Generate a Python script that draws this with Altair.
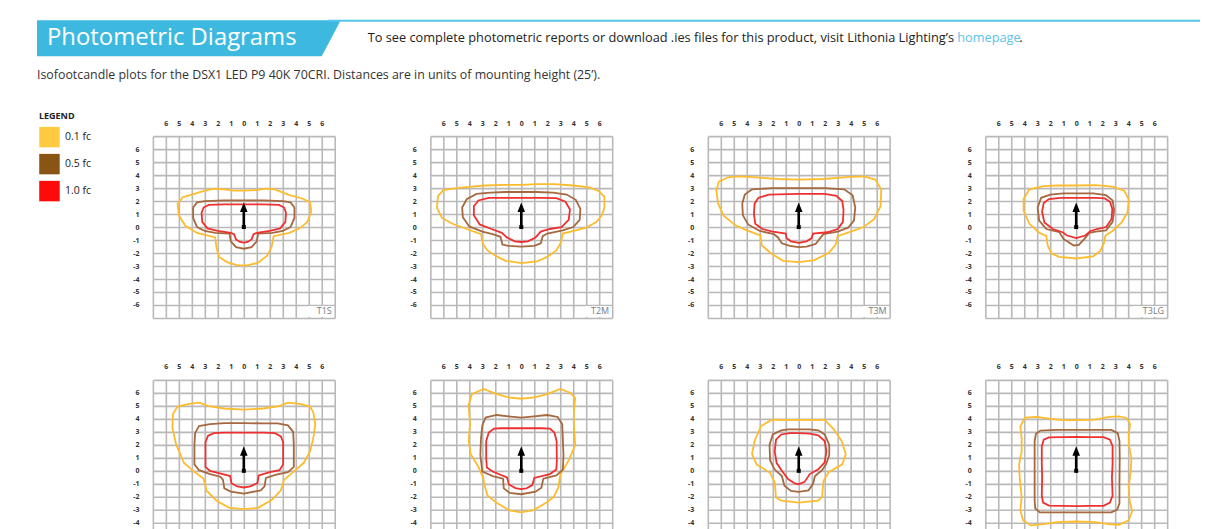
import altair as alt
import pandas as pd

# ---------------- text content ----------------
TITLE = "Photometric Diagrams"
INTRO = "To see complete photometric reports or download .ies files for this product, visit Lithonia Lighting\u2019s"
LINK = "homepage"
LINK_END = "."
DESC = "Isofootcandle plots for the DSX1 LED P9 40K 70CRI. Distances are in units of mounting height (25\u2019)."
LEGEND_TITLE = "LEGEND"

LEVELS = ["0.1 fc", "0.5 fc", "1.0 fc"]
SWATCH_COLORS = ["#FFCA40", "#8A5514", "#FF0A0A"]
LINE_COLORS = ["#FDBC2E", "#A5683F", "#EE3030"]

PANELS = ["T1S", "T2M", "T3M", "T3LG", "T4M", "T4LG", "TFTM", "T5VS"]
GRID_VALUES = list(range(-7, 8))

# fixture arrow (units of mounting height)
ARROW_BASE = 0.0
ARROW_SHAFT_END = 1.3
ARROW_HEAD_CENTER = 1.53

# ---------------- isofootcandle contours (x, y) ----------------
T1S_01 = [(0, 2.8), (1, 2.85), (1.7, 2.95), (2.4, 2.9), (3.4, 2.5), (4.5, 2.2), (5.1, 1.9), (5.2, 1.2), (4.9, 0.4),
          (4.3, -0.1), (3.5, -0.45), (2.3, -0.7), (2.15, -1.5), (1.8, -2.2), (1.1, -2.75), (0.3, -2.95), (-0.5, -2.95),
          (-1.3, -2.7), (-1.9, -2.3), (-2.1, -1.6), (-2.2, -0.8), (-3.6, -0.45), (-4.5, 0.1), (-5.0, 0.9), (-5.1, 1.8),
          (-4.7, 2.3), (-4.0, 2.5), (-3.0, 2.8), (-2.3, 2.95), (-1.5, 2.9), (-0.8, 2.8)]
T1S_05 = [(0, 2.05), (1.5, 2.05), (3.0, 2.0), (3.6, 1.9), (3.9, 1.5), (3.9, 0.7), (3.6, 0.0), (3.0, -0.3), (2.2, -0.45),
          (1.1, -0.5), (1.0, -1.1), (0.6, -1.55), (0, -1.67), (-0.6, -1.55), (-1.0, -1.1), (-1.1, -0.5), (-2.2, -0.45),
          (-3.0, -0.3), (-3.6, 0), (-3.9, 0.7), (-3.9, 1.5), (-3.6, 1.9), (-3.0, 2.0), (-1.5, 2.05)]
T1S_10 = [(0, 1.75), (1.5, 1.75), (2.7, 1.7), (3.1, 1.5), (3.25, 1.1), (3.2, 0.4), (2.8, -0.1), (2.0, -0.3), (1.0, -0.45),
          (0.75, -0.55), (0.6, -0.95), (0.3, -1.15), (0, -1.2), (-0.3, -1.15), (-0.6, -0.95), (-0.75, -0.55), (-1.0, -0.45),
          (-2.0, -0.3), (-2.8, -0.1), (-3.2, 0.4), (-3.25, 1.1), (-3.1, 1.5), (-2.7, 1.7), (-1.5, 1.75)]

T2M_01 = [(0, 3.25), (1.2, 3.3), (2.5, 3.3), (4.0, 3.2), (5.2, 3.05), (5.9, 2.8), (6.4, 2.35), (6.4, 1.5), (6.2, 0.9),
          (5.8, 0.4), (5.0, -0.05), (4.2, -0.25), (3.2, -0.5), (3.05, -1.2), (2.7, -1.8), (2.0, -2.3), (1.2, -2.65),
          (0, -2.78), (-1.2, -2.6), (-2.0, -2.2), (-2.6, -1.8), (-2.95, -1.3), (-3.1, -0.55), (-4.2, -0.15), (-5.3, 0.25),
          (-6.1, 0.7), (-6.5, 1.5), (-6.4, 2.4), (-6.0, 2.85), (-5.0, 3.0), (-4.0, 3.1), (-2.8, 3.2), (-1.3, 3.25)]
T2M_05 = [(0, 2.7), (1.2, 2.7), (2.45, 2.65), (3.5, 2.5), (4.2, 2.1), (4.55, 1.4), (4.5, 0.55), (4.0, 0.0), (3.2, -0.25),
          (2.0, -0.5), (1.65, -0.7), (1.5, -1.25), (1.0, -1.45), (0, -1.5), (-1.0, -1.45), (-1.45, -1.35), (-1.6, -0.75),
          (-2.2, -0.55), (-3.0, -0.35), (-4.0, 0.05), (-4.5, 0.75), (-4.55, 1.5), (-4.2, 2.15), (-3.45, 2.55),
          (-2.4, 2.65), (-1.2, 2.7)]
T2M_10 = [(0, 2.25), (1.5, 2.25), (2.7, 2.22), (3.4, 1.95), (3.75, 1.35), (3.65, 0.55), (3.1, 0.0), (2.2, -0.15),
          (1.5, -0.35), (1.1, -0.8), (0.5, -1.1), (0, -1.15), (-0.5, -1.1), (-1.1, -0.8), (-1.5, -0.45), (-2.3, -0.15),
          (-3.2, 0.2), (-3.65, 0.9), (-3.65, 1.6), (-3.3, 2.05), (-2.5, 2.25), (-1.5, 2.25)]

T3M_01 = [(0, 3.65), (1.9, 3.7), (3.7, 3.85), (5.0, 3.9), (5.9, 3.65), (6.35, 2.9), (6.3, 1.6), (5.8, 0.6), (5.0, 0.0),
          (4.0, -0.35), (3.0, -0.7), (2.85, -1.35), (2.3, -2.0), (1.2, -2.55), (0, -2.7), (-1.2, -2.6), (-2.1, -2.05),
          (-2.85, -1.4), (-2.95, -0.65), (-4.0, -0.25), (-4.9, 0.15), (-5.8, 0.9), (-6.2, 1.8), (-6.35, 2.8),
          (-6.15, 3.5), (-5.4, 3.85), (-4.5, 3.9), (-3.0, 3.8), (-1.6, 3.7)]
T3M_05 = [(0, 3.0), (2.0, 3.0), (3.5, 2.9), (4.15, 2.45), (4.35, 1.5), (4.25, 0.5), (3.8, -0.05), (3.0, -0.35),
          (1.9, -0.55), (1.65, -0.85), (1.3, -1.3), (0.6, -1.5), (0, -1.55), (-0.7, -1.45), (-1.3, -1.25), (-1.6, -0.8),
          (-1.9, -0.55), (-3.0, -0.3), (-3.9, 0.2), (-4.3, 0.9), (-4.35, 1.8), (-4.15, 2.5), (-3.6, 2.9), (-2.0, 3.0)]
T3M_10 = [(0, 2.55), (2.0, 2.55), (2.9, 2.4), (3.35, 2.0), (3.45, 1.3), (3.4, 0.4), (3.0, -0.15), (2.2, -0.4), (1.1, -0.5),
          (1.0, -0.85), (0.6, -1.1), (0, -1.22), (-0.6, -1.1), (-0.95, -0.85), (-1.0, -0.5), (-2.0, -0.35), (-2.8, -0.15),
          (-3.35, 0.25), (-3.45, 1.0), (-3.4, 1.8), (-3.1, 2.25), (-2.3, 2.5)]

T3LG_01 = [(0, 3.2), (1.5, 3.22), (2.8, 3.12), (3.7, 2.8), (4.05, 2.1), (3.95, 1.15), (3.5, 0.35), (2.8, -0.3),
           (2.25, -0.65), (2.15, -1.2), (1.85, -1.85), (1.3, -2.25), (0, -2.42), (-1.3, -2.3), (-1.9, -2.05), (-2.2, -1.4),
           (-2.3, -0.7), (-2.9, -0.4), (-3.6, 0.25), (-4.05, 1.25), (-4.05, 2.15), (-3.6, 2.9), (-2.5, 3.15), (-1.5, 3.2)]
T3LG_05 = [(0, 2.6), (1.3, 2.6), (2.3, 2.45), (2.8, 2.05), (2.92, 1.3), (2.8, 0.4), (2.3, -0.25), (1.5, -0.35),
           (1.0, -0.45), (0.6, -0.95), (0.2, -1.38), (-0.2, -1.42), (-0.6, -1.15), (-0.95, -0.95), (-1.3, -0.4),
           (-2.3, -0.15), (-2.85, 0.5), (-2.97, 1.5), (-2.7, 2.25), (-2.0, 2.5), (-1.0, 2.6)]
T3LG_10 = [(0, 2.25), (1.5, 2.25), (2.2, 2.2), (2.6, 1.95), (2.78, 1.4), (2.72, 0.6), (2.3, 0.0), (1.6, -0.15), (1.1, -0.3),
           (0.7, -0.65), (0, -0.85), (-0.7, -0.65), (-1.05, -0.4), (-1.8, -0.15), (-2.45, 0.35), (-2.63, 1.2),
           (-2.5, 1.85), (-2.1, 2.15), (-1.2, 2.25)]

T4M_01 = [(0, 4.72), (1.5, 4.8), (2.8, 5.0), (3.4, 5.25), (4.3, 5.15), (5.1, 4.95), (5.35, 4.5), (5.5, 3.6), (5.35, 2.5),
          (5.1, 1.5), (4.6, 0.6), (3.9, 0.0), (3.1, -0.7), (2.85, -1.5), (2.2, -2.2), (1.1, -2.85), (0, -2.95),
          (-1.1, -2.85), (-2.1, -2.3), (-2.85, -1.55), (-3.1, -0.6), (-3.9, 0.0), (-4.6, 0.6), (-5.2, 2.0), (-5.5, 3.3),
          (-5.45, 4.4), (-5.1, 4.95), (-4.2, 5.15), (-3.4, 5.25), (-2.8, 5.0), (-1.5, 4.8)]
T4M_05 = [(0, 3.68), (1.5, 3.65), (2.6, 3.65), (3.4, 3.5), (3.8, 3.0), (3.85, 2.0), (3.85, 0.3), (3.4, -0.1), (2.5, -0.3),
          (1.7, -0.55), (1.6, -1.2), (1.3, -1.5), (0, -1.75), (-1.0, -1.6), (-1.5, -1.35), (-1.6, -0.7), (-1.8, -0.45),
          (-2.6, -0.25), (-3.45, 0.05), (-3.8, 0.5), (-3.8, 2.0), (-3.75, 2.9), (-3.45, 3.45), (-2.6, 3.6), (-1.5, 3.68)]
T4M_10 = [(0, 2.95), (1.5, 2.95), (2.4, 2.9), (2.85, 2.65), (3.03, 2.2), (3.03, 0.5), (2.75, 0.05), (2.0, -0.1),
          (1.15, -0.35), (1.05, -0.95), (0.5, -1.2), (0, -1.28), (-0.5, -1.2), (-0.95, -0.95), (-1.05, -0.4),
          (-2.0, -0.15), (-2.6, 0.0), (-2.95, 0.3), (-2.95, 2.2), (-2.75, 2.7), (-2.3, 2.9), (-1.5, 2.95)]

T4LG_01 = [(0, 5.55), (1.0, 5.65), (2.0, 5.9), (3.0, 6.3), (3.8, 6.0), (4.15, 5.6), (4.05, 4.5), (4.05, 3.5), (4.15, 2.0),
           (3.7, 0.9), (3.0, -0.3), (2.85, -1.3), (2.5, -2.0), (2.0, -2.4), (1.0, -3.0), (0, -3.2), (-0.9, -3.05),
           (-1.9, -2.45), (-2.6, -1.9), (-2.8, -1.2), (-2.95, -0.5), (-3.3, 0.3), (-3.9, 1.3), (-4.05, 2.3),
           (-3.95, 3.6), (-4.05, 5.1), (-3.8, 5.9), (-2.9, 6.3), (-2.0, 5.95), (-1.0, 5.65)]
T4LG_05 = [(0, 4.1), (1.0, 4.2), (2.0, 4.3), (2.8, 4.15), (3.15, 3.6), (3.2, 2.5), (3.25, 1.2), (3.2, 0.1), (2.7, -0.35),
           (1.7, -0.6), (1.55, -1.3), (1.1, -1.6), (0, -1.8), (-0.9, -1.7), (-1.35, -1.35), (-1.4, -0.6), (-2.2, -0.4),
           (-3.0, -0.05), (-3.15, 1.2), (-3.1, 2.5), (-3.0, 3.5), (-2.75, 4.1), (-1.9, 4.3), (-1.0, 4.2)]
T4LG_10 = [(0, 3.28), (1.5, 3.28), (2.2, 3.25), (2.55, 2.95), (2.72, 2.3), (2.74, 0.8), (2.7, 0.1), (2.2, -0.25),
           (1.0, -0.55), (0.85, -1.1), (0.4, -1.35), (0, -1.4), (-0.45, -1.33), (-0.95, -1.05), (-1.1, -0.5),
           (-2.2, -0.05), (-2.65, 0.25), (-2.7, 1.0), (-2.7, 2.3), (-2.5, 2.95), (-2.1, 3.25), (-1.5, 3.28)]

TFTM_01 = [(0, 3.92), (1.0, 3.92), (2.0, 3.92), (2.7, 3.2), (3.3, 2.3), (3.62, 1.3), (3.35, 0.5), (2.3, -0.1), (1.9, -0.8),
           (1.8, -2.0), (1.5, -2.3), (0, -2.45), (-1.35, -2.3), (-1.75, -2.05), (-1.85, -0.9), (-2.2, -0.15),
           (-3.25, 0.5), (-3.6, 1.3), (-3.4, 2.3), (-2.9, 3.45), (-2.1, 3.92), (-1.0, 3.92)]
TFTM_05 = [(0, 3.2), (0.8, 3.2), (1.5, 3.12), (2.0, 2.8), (2.35, 2.0), (2.35, 1.2), (2.1, 0.5), (1.8, 0.05), (1.25, -0.4),
           (1.1, -1.0), (0.75, -1.5), (0, -1.62), (-0.6, -1.55), (-1.1, -1.15), (-1.3, -0.4), (-1.85, 0.1), (-2.2, 0.8),
           (-2.25, 2.0), (-2.0, 2.8), (-1.35, 3.12), (-0.8, 3.2)]
TFTM_10 = [(0, 2.9), (0.85, 2.87), (1.5, 2.74), (2.0, 2.3), (2.13, 1.5), (2.0, 0.65), (1.5, 0.12), (0.85, -0.25),
           (0.45, -0.85), (0, -1.03), (-0.3, -0.97), (-0.8, -0.65), (-1.3, 0.0), (-1.7, 0.6), (-1.85, 1.5), (-1.75, 2.4),
           (-1.35, 2.8), (-0.7, 2.9)]

T5VS_01 = [(0, 3.9), (1.5, 3.95), (2.5, 4.15), (3.3, 4.2), (3.9, 4.05), (4.15, 3.6), (4.05, 2.8), (4.05, 2.0), (4.25, 1.0),
           (4.2, 0), (4.05, -1.2), (4.1, -2.2), (4.3, -3.1), (4.05, -3.8), (3.3, -4.15), (2.5, -4.1), (1.5, -3.95),
           (0, -3.9), (-1.5, -3.95), (-2.5, -4.1), (-3.5, -4.2), (-4.1, -3.8), (-4.3, -3.0), (-4.2, -2.0), (-4.35, -0.5),
           (-4.4, 0.5), (-4.2, 1.5), (-4.2, 2.5), (-4.3, 3.4), (-3.95, 4.1), (-3.0, 4.15), (-2.0, 4.0), (-1.0, 3.9)]
T5VS_05 = [(0, 3.15), (1.5, 3.15), (2.7, 3.15), (3.2, 2.9), (3.33, 2.3), (3.35, 1.0), (3.33, -1.0), (3.33, -2.5),
           (3.15, -3.0), (2.7, -3.2), (1.5, -3.2), (0, -3.2), (-1.5, -3.2), (-2.8, -3.2), (-3.15, -2.9), (-3.2, -2.3),
           (-3.2, -1.0), (-3.2, 1.0), (-3.2, 2.3), (-3.1, 2.85), (-2.75, 3.1), (-1.5, 3.15)]
T5VS_10 = [(0, 2.62), (1.0, 2.6), (2.1, 2.6), (2.6, 2.4), (2.8, 1.9), (2.8, 0.5), (2.75, -0.5), (2.8, -1.9), (2.6, -2.45),
           (2.1, -2.7), (1.0, -2.7), (0, -2.72), (-1.0, -2.7), (-2.1, -2.68), (-2.55, -2.45), (-2.65, -1.9),
           (-2.62, -0.5), (-2.65, 0.5), (-2.65, 1.9), (-2.5, 2.4), (-2.1, 2.58), (-1.0, 2.6)]

CONTOURS = {
    "T1S": [T1S_01, T1S_05, T1S_10],
    "T2M": [T2M_01, T2M_05, T2M_10],
    "T3M": [T3M_01, T3M_05, T3M_10],
    "T3LG": [T3LG_01, T3LG_05, T3LG_10],
    "T4M": [T4M_01, T4M_05, T4M_10],
    "T4LG": [T4LG_01, T4LG_05, T4LG_10],
    "TFTM": [TFTM_01, TFTM_05, TFTM_10],
    "T5VS": [T5VS_01, T5VS_05, T5VS_10],
}

rows = []
for name, curves in CONTOURS.items():
    for lvl, pts in zip(LEVELS, curves):
        for i, (px, py) in enumerate(pts):
            rows.append({"panel": name, "level": lvl, "i": i, "x": px, "y": py})
contour_df = pd.DataFrame(rows)

FONT = "Open Sans"
PANEL_W = 182
PANEL_H = 182

xscale = alt.Scale(domain=[-7, 7], nice=False, zero=False)
yscale = alt.Scale(domain=[-7, 7], nice=False, zero=False)

x_axis = alt.Axis(orient="top", values=GRID_VALUES, tickCount=len(GRID_VALUES), grid=True, title=None,
                  labelOverlap=False, labelFlush=False,
                  labelExpr="abs(datum.value) == 7 ? '' : '' + abs(datum.value)", labelPadding=10)
y_axis = alt.Axis(orient="left", values=GRID_VALUES, tickCount=len(GRID_VALUES), grid=True, title=None,
                  labelOverlap=False, labelFlush=False,
                  labelExpr="abs(datum.value) == 7 ? '' : '' + datum.value", labelPadding=14)


def make_panel(name):
    data = contour_df[contour_df.panel == name]
    lines = alt.Chart(data).mark_line(strokeWidth=1.8, interpolate="linear-closed").encode(
        x=alt.X("x:Q", scale=xscale, axis=x_axis),
        y=alt.Y("y:Q", scale=yscale, axis=y_axis),
        color=alt.Color("level:N", scale=alt.Scale(domain=LEVELS, range=LINE_COLORS), legend=None),
        detail="level:N",
        order="i:Q",
    )
    arrow_df = pd.DataFrame({"x": [0.0], "y0": [ARROW_BASE], "y1": [ARROW_SHAFT_END], "yh": [ARROW_HEAD_CENTER],
                             "label": [name]})
    base = alt.Chart(arrow_df)
    shaft = base.mark_rule(color="black", strokeWidth=2.6).encode(
        x=alt.X("x:Q", scale=xscale), y=alt.Y("y0:Q", scale=yscale), y2="y1:Q")
    head = base.mark_point(shape="M0,-1 L0.8,1 L-0.8,1 Z", size=90, filled=True, color="black", opacity=1,
                           strokeWidth=0).encode(
        x=alt.X("x:Q", scale=xscale), y=alt.Y("yh:Q", scale=yscale))
    foot = base.mark_square(size=16, color="black", opacity=1).encode(
        x=alt.X("x:Q", scale=xscale), y=alt.Y("y0:Q", scale=yscale))
    box = base.mark_rect(color="white").encode(
        x=alt.value(PANEL_W - 6 - 7 * len(name)), x2=alt.value(PANEL_W - 1), y=alt.value(170), y2=alt.value(PANEL_H - 1))
    label = base.mark_text(align="right", baseline="middle", font=FONT, fontSize=9, color="#7a7a7a").encode(
        x=alt.value(PANEL_W - 3), y=alt.value(175), text="label:N")
    return alt.layer(lines, shaft, head, foot, box, label).properties(width=PANEL_W, height=PANEL_H)


panels = [make_panel(n) for n in PANELS]
grid = alt.concat(*panels, columns=4, spacing={"row": 62, "column": 95.7}).properties(bounds="flush")

# ---------------- legend ----------------
legend_df = pd.DataFrame({"level": LEVELS})
leg_base = alt.Chart(legend_df)
leg_y = alt.Y("level:N", scale=alt.Scale(domain=LEVELS, range=[1, 55], type="point", padding=0), axis=None)
swatches = leg_base.mark_square(size=420, opacity=1).encode(
    x=alt.value(41.5), y=leg_y,
    fill=alt.Fill("level:N", scale=alt.Scale(domain=LEVELS, range=SWATCH_COLORS), legend=None))
swatch_text = leg_base.mark_text(align="left", baseline="middle", font=FONT, fontSize=10.5, color="#222").encode(
    x=alt.value(57), y=leg_y, text="level:N")
leg_title = alt.Chart(pd.DataFrame({"t": [LEGEND_TITLE]})).mark_text(
    align="left", baseline="middle", font=FONT, fontSize=9, fontWeight="bold", color="#222").encode(
    x=alt.value(31), y=alt.value(-20), text="t:N")
legend = alt.layer(swatches, swatch_text, leg_title).properties(width=100, height=PANEL_H)

body = alt.hconcat(legend, grid, spacing=45).properties(bounds="flush")

# ---------------- header ----------------
hdr = alt.Chart(pd.DataFrame({"k": [0]}))
BANNER_PATH = "M0,0 L304,0 L285,36 L0,36 Z"
banner = hdr.mark_point(shape=BANNER_PATH, size=4, filled=True, color="#3DB9E0", opacity=1, strokeWidth=0).encode(
    x=alt.value(29), y=alt.value(12))
top_line = hdr.mark_rule(color="#55C4EA", strokeWidth=2).encode(
    x=alt.value(320), x2=alt.value(1193), y=alt.value(12.5))
title = hdr.mark_text(align="left", baseline="middle", font=FONT, fontSize=23.9, color="white").encode(
    x=alt.value(39), y=alt.value(30), text=alt.value(TITLE))
intro = hdr.mark_text(align="left", baseline="middle", font=FONT, fontSize=12.8, color="#222").encode(
    x=alt.value(360), y=alt.value(30), text=alt.value(INTRO))
link = hdr.mark_text(align="left", baseline="middle", font=FONT, fontSize=12.8, color="#5BC3EC").encode(
    x=alt.value(950), y=alt.value(30), text=alt.value(LINK))
link_end = hdr.mark_text(align="left", baseline="middle", font=FONT, fontSize=12.8, color="#222").encode(
    x=alt.value(1012), y=alt.value(30), text=alt.value(LINK_END))
desc = hdr.mark_text(align="left", baseline="middle", font=FONT, fontSize=12.4, color="#333").encode(
    x=alt.value(29), y=alt.value(67), text=alt.value(DESC))
header = alt.layer(banner, top_line, title, intro, link, link_end, desc).properties(width=1193, height=128)

chart = alt.vconcat(header, body, spacing=0).properties(bounds="flush", padding=0).configure_view(
    stroke=None
).configure_axis(
    domain=False, ticks=False, labelFont=FONT, labelFontSize=7, labelFontWeight="bold", labelColor="#333",
    gridColor="#b9b9b9", gridWidth=1.6, gridOpacity=1
)

chart.save("out.html", embed_options={"renderer": "svg", "actions": False})
